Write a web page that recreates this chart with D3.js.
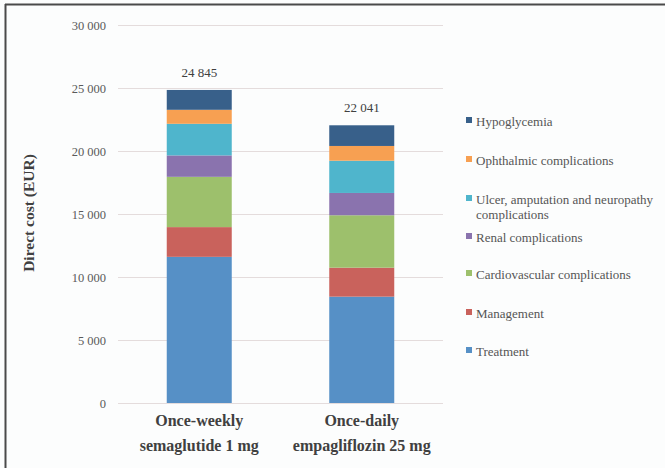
<!DOCTYPE html>
<html>
<head>
<meta charset="utf-8">
<script src="https://cdn.jsdelivr.net/npm/d3@7"></script>
<style>
  html, body { margin: 0; padding: 0; background: #fcfdfd; }
  svg { display: block; }
  svg text { font-family: "Liberation Serif", "Times New Roman", Times, serif !important; }
</style>
</head>
<body>
<svg id="chart" width="665" height="468"></svg>
<script>
// Treatment arms (two text lines each)
const categories = ["semaglutide", "empagliflozin"];
const categoryLines = [
  ["Once-weekly", "semaglutide 1 mg"],
  ["Once-daily", "empagliflozin 25 mg"]
];
// Cost components, bottom of the stack first
const components = [
  "Treatment",
  "Management",
  "Cardiovascular complications",
  "Renal complications",
  "Ulcer, amputation and neuropathy complications",
  "Ophthalmic complications",
  "Hypoglycemia"
];
// Direct cost per component (EUR), one array per arm, same order as components
const semaglutideCosts  = [11600, 2360, 3990, 1700, 2510, 1110, 1575];
const empagliflozinCosts = [8440, 2300, 4160, 1770, 2560, 1170, 1641];
// Total labels above the bars
const totals = [24845, 22041];
const totalLabels = ["24 845", "22 041"];
// Y axis ticks
const yTicks = [0, 5000, 10000, 15000, 20000, 25000, 30000];
const yTickLabels = ["0", "5 000", "10 000", "15 000", "20 000", "25 000", "30 000"];

const colors = ["#5690c6", "#c9625c", "#9dc06c", "#8a73ae", "#4fb5cc", "#f7a052", "#38608a"];
const SERIF = "Liberation Serif, Times New Roman, serif";

const svg = d3.select("#chart").attr("font-family", SERIF);

// frame lines along the left and top edges
svg.append("line").attr("x1", 5.5).attr("x2", 5.5).attr("y1", 4).attr("y2", 468)
  .attr("stroke", "#4a4a4a").attr("stroke-width", 2);
svg.append("line").attr("x1", 5).attr("x2", 665).attr("y1", 4.5).attr("y2", 4.5)
  .attr("stroke", "#4a4a4a").attr("stroke-width", 2);

const plot = { left: 118, right: 443, top: 25, bottom: 403 };

const x = d3.scaleBand().domain(categories).range([plot.left, plot.right])
  .paddingInner(0.6).paddingOuter(0.3);
const y = d3.scaleLinear().domain([0, 30000]).range([plot.bottom, plot.top]);

// gridlines
const yAxis = d3.axisLeft(y).tickValues(yTicks)
  .tickFormat((d, i) => yTickLabels[i])
  .tickSize(-(plot.right - plot.left)).tickPadding(12);
const gy = svg.append("g").attr("transform", `translate(${plot.left},0)`).call(yAxis);
gy.attr("font-family", SERIF);
gy.select(".domain").remove();
gy.selectAll(".tick line").attr("stroke", "#e4dcdc").attr("stroke-width", 1);
gy.selectAll(".tick text").attr("fill", "#5a5a5a").attr("font-size", 12.5);

// stacked bars
const rows = categories.map((c, i) => {
  const vals = i === 0 ? semaglutideCosts : empagliflozinCosts;
  const r = { cat: c };
  components.forEach((k, j) => r[k] = vals[j]);
  return r;
});
const series = d3.stack().keys(components)(rows);

svg.append("g").selectAll("g").data(series).join("g")
  .attr("fill", (d, i) => colors[i])
  .selectAll("rect").data(d => d).join("rect")
  .attr("x", d => x(d.data.cat))
  .attr("width", x.bandwidth())
  .attr("y", d => y(d[1]))
  .attr("height", d => y(d[0]) - y(d[1]));

// totals
svg.append("g").selectAll("text").data(categories).join("text")
  .attr("x", d => x(d) + x.bandwidth() / 2)
  .attr("y", (d, i) => y(totals[i]) - 13)
  .attr("text-anchor", "middle")
  .attr("font-size", 13).attr("fill", "#404040")
  .text((d, i) => totalLabels[i]);

// category labels
const cat = svg.append("g").selectAll("text").data(categories).join("text")
  .attr("x", d => x(d) + x.bandwidth() / 2)
  .attr("y", 426)
  .attr("text-anchor", "middle")
  .attr("font-size", 16).attr("font-weight", "bold").attr("fill", "#404040");
cat.selectAll("tspan").data((d, i) => categoryLines[i]).join("tspan")
  .attr("x", function () { return d3.select(this.parentNode).attr("x"); })
  .attr("dy", (d, i) => i === 0 ? 0 : 25)
  .text(d => d);

// y axis title
svg.append("text")
  .attr("transform", `translate(34,213) rotate(-90)`)
  .attr("text-anchor", "middle")
  .attr("font-size", 15.5).attr("font-weight", "bold").attr("fill", "#404040")
  .text("Direct cost (EUR)");

// legend, top entry is the top of the stack
const legendRows = [
  { k: 6, y: 121, lines: ["Hypoglycemia"] },
  { k: 5, y: 160, lines: ["Ophthalmic complications"] },
  { k: 4, y: 199, lines: ["Ulcer, amputation and neuropathy", "complications"] },
  { k: 3, y: 237, lines: ["Renal complications"] },
  { k: 2, y: 274, lines: ["Cardiovascular complications"] },
  { k: 1, y: 313, lines: ["Management"] },
  { k: 0, y: 351, lines: ["Treatment"] }
];
const lg = svg.append("g").selectAll("g").data(legendRows).join("g");
lg.append("rect")
  .attr("x", 466).attr("y", d => d.y - 4).attr("width", 6).attr("height", 6)
  .attr("fill", d => colors[d.k]);
lg.append("text")
  .attr("x", 476).attr("y", d => d.y + 4.5)
  .attr("font-size", 13).attr("fill", "#555555")
  .selectAll("tspan").data(d => d.lines).join("tspan")
  .attr("x", 476).attr("dy", (d, i) => i === 0 ? 0 : 15.5)
  .text(d => d);
</script>
</body>
</html>
